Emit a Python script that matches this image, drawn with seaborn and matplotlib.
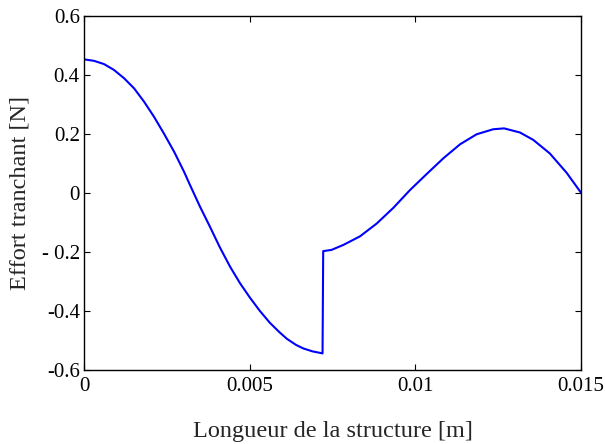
import numpy as np
import pandas as pd
import matplotlib
matplotlib.use("Agg")
import matplotlib.pyplot as plt
import seaborn as sns

# valeurs
longueur = [0.0, 0.000302, 0.000604, 0.000906, 0.00121, 0.00151, 0.00181, 0.00211,
            0.00241, 0.00272, 0.00302, 0.00320, 0.00350, 0.00380, 0.00410, 0.00441,
            0.00471, 0.00501, 0.00531, 0.00561, 0.00590, 0.00612, 0.00640, 0.00662,
            0.00690, 0.00717, 0.00720, 0.00722, 0.00747, 0.00783, 0.00833, 0.00883,
            0.00934, 0.00984, 0.01034, 0.01085, 0.01135, 0.01185, 0.01235, 0.01268,
            0.01316, 0.01356, 0.01406, 0.01457, 0.0150]
effort = [0.453, 0.448, 0.437, 0.417, 0.389, 0.355, 0.310, 0.259,
          0.202, 0.140, 0.072, 0.027, -0.046, -0.114, -0.184, -0.250,
          -0.306, -0.355, -0.400, -0.440, -0.472, -0.494, -0.515, -0.527,
          -0.537, -0.543, -0.544, -0.197, -0.193, -0.176, -0.147, -0.104,
          -0.050, 0.010, 0.064, 0.118, 0.165, 0.199, 0.216, 0.219,
          0.205, 0.180, 0.134, 0.068, 0.001]

xticks = [0, 0.005, 0.01, 0.015]
xticklabels = ["0", "0.005", "0.01", "0.015"]
yticks = [-0.6, -0.4, -0.2, 0, 0.2, 0.4, 0.6]
yticklabels = ["-0.6", "-0.4", "- 0.2", "0", "0.2", "0.4", "0.6"]

df = pd.DataFrame({"x": longueur, "y": effort})

sns.set_style("white")
plt.rcParams['font.family'] = ['Liberation Serif', 'DejaVu Serif']
plt.rcParams['axes.unicode_minus'] = False

fig = plt.figure(figsize=(6.05, 4.44), dpi=100)
ax = fig.add_axes([0.1388, 0.1667, 0.8215, 0.7973])

sns.lineplot(data=df, x="x", y="y", sort=False, estimator=None,
             color=(0, 0, 1), linewidth=1.5, ax=ax)

ax.set_xlim(0, 0.015)
ax.set_ylim(-0.6, 0.6)
ax.set_xticks(xticks)
ax.set_xticklabels(xticklabels)
ax.set_yticks(yticks)
ax.set_yticklabels(yticklabels)

for s in ax.spines.values():
    s.set_visible(True)
    s.set_color("black")
    s.set_linewidth(1.0)

ax.tick_params(direction="in", length=4.5, width=0.8, colors="black",
               labelsize=15, top=True, right=True, bottom=True, left=True,
               pad=3)
ax.tick_params(axis="x", pad=5)

ax.set_xlabel("Longueur de la structure [m]", fontsize=17.5, labelpad=18)
ax.set_ylabel("Effort tranchant [N]", fontsize=17.5, labelpad=8)

fig.savefig("out.png", dpi=100)
plt.close(fig)
